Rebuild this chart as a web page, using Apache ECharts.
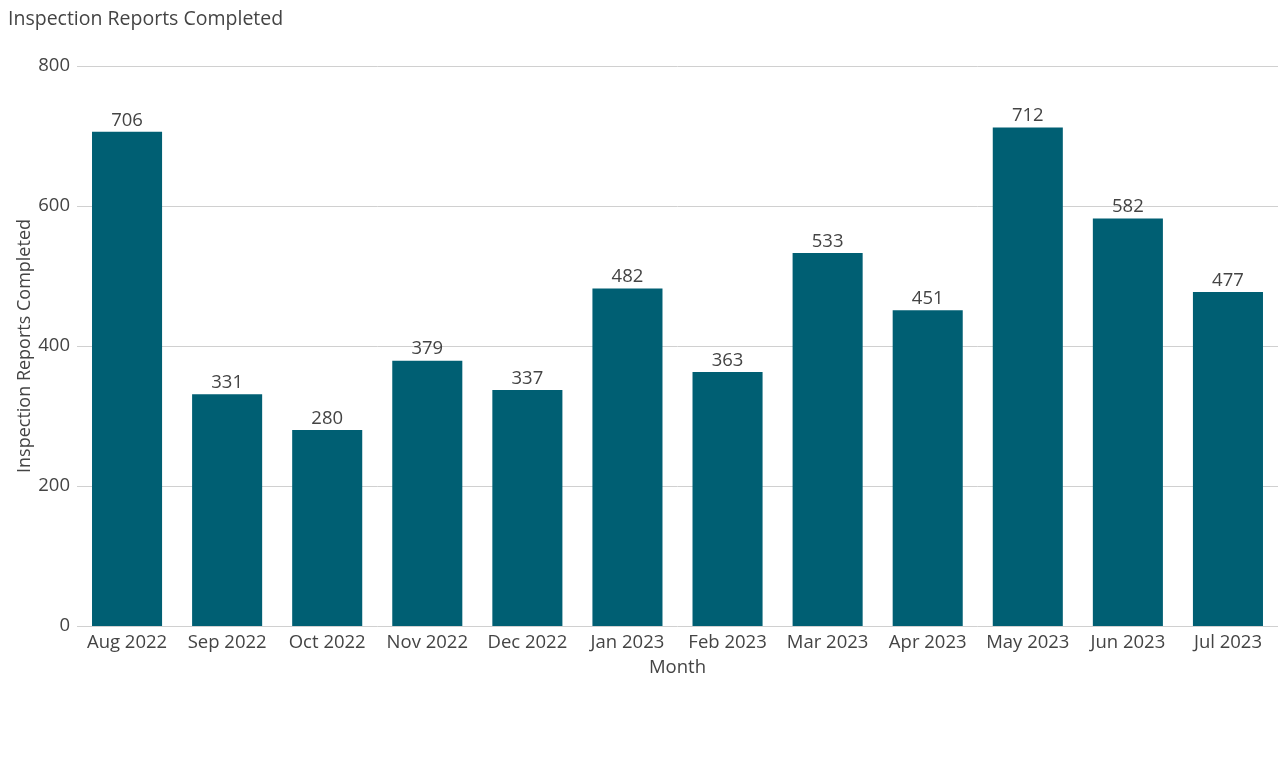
<!DOCTYPE html>
<html><head><meta charset="utf-8">
<script src="https://cdn.jsdelivr.net/npm/echarts@6/dist/echarts.min.js"></script>
<style>html,body{margin:0;padding:0;background:#fff}#c{width:1285px;height:763px}</style>
</head><body><div id="c"></div>
<script>
const categories = ["Aug 2022","Sep 2022","Oct 2022","Nov 2022","Dec 2022","Jan 2023","Feb 2023","Mar 2023","Apr 2023","May 2023","Jun 2023","Jul 2023"];
const reports = [706,331,280,379,337,482,363,533,451,712,582,477];
const chart = echarts.init(document.getElementById('c'));
const font = '"Open Sans", sans-serif';
chart.setOption({
  animation:false,
  textStyle:{fontFamily:font},
  title:{text:'Inspection Reports Completed',left:3,top:4,textStyle:{fontFamily:font,fontSize:19.5,fontWeight:'normal',color:'#444'}},
  grid:{left:77,right:7,top:66,bottom:137},
  xAxis:{type:'category',data:categories,name:'Month',nameLocation:'middle',nameGap:32,
    nameTextStyle:{fontFamily:font,fontSize:18.5,color:'#444'},
    axisLine:{show:false},axisTick:{show:false},
    axisLabel:{fontFamily:font,fontSize:18.5,color:'#444',margin:7,interval:0,hideOverlap:false}},
  yAxis:{type:'value',min:0,max:800,interval:200,name:'Inspection Reports Completed',nameLocation:'middle',nameGap:43,nameMoveOverlap:false,
    nameTextStyle:{fontFamily:font,fontSize:18,color:'#444'},
    axisLabel:{fontFamily:font,fontSize:18.5,color:'#444',margin:7},
    splitLine:{lineStyle:{color:'#d0d0d0',width:1}}},
  series:[{type:'bar',data:reports,barCategoryGap:'30%',itemStyle:{color:'#005f73'},
    label:{show:true,position:'top',distance:2,fontFamily:font,fontSize:18.5,color:'#444'}}]
});
</script></body></html>
